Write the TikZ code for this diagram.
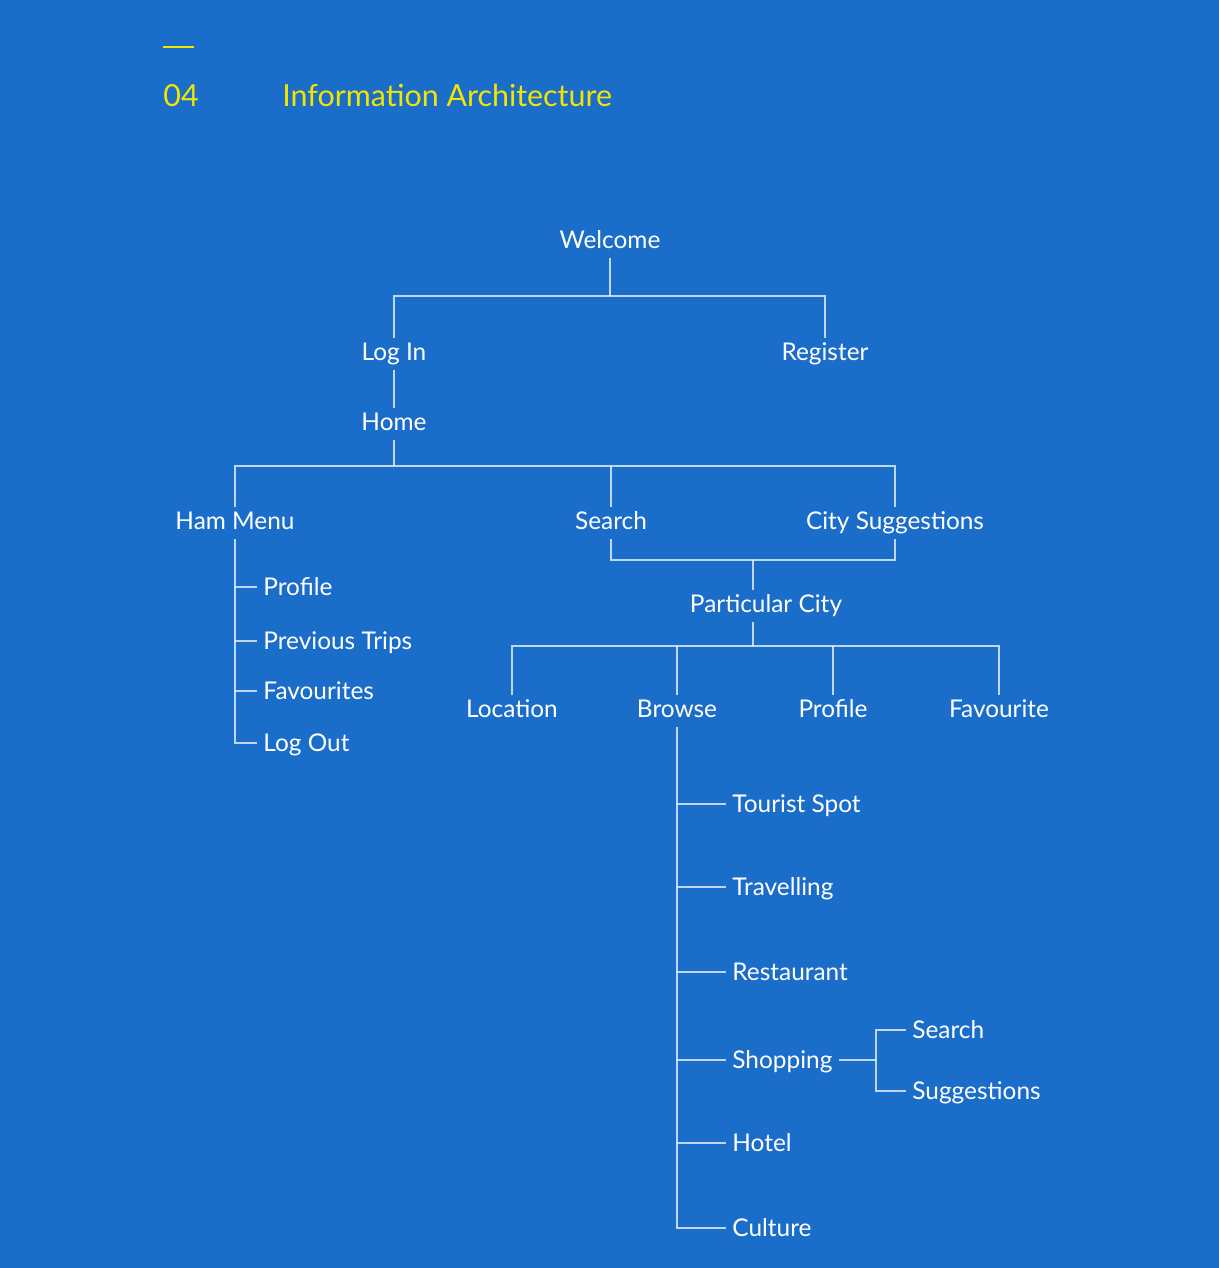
\documentclass[tikz,border=0pt]{standalone}
\usepackage{fontspec}
\setmainfont{Lato}
\usetikzlibrary{positioning,calc}
\definecolor{bgblue}{HTML}{1B6DCA}
\definecolor{titleyellow}{HTML}{F2E500}
\tikzset{item/.style={
            text=white,
            font=\fontsize{12.2}{14}\selectfont,
            inner xsep=3pt,
            inner ysep=2pt,
            text height=9pt,
            text depth=2.6pt
        },
        leaf/.style={
            item,
            anchor=west,
            text height=9.2pt,
            text depth=0.4pt
        },
        link/.style={
            draw=white,
            draw opacity=0.72,
            line width=0.6pt
        },
        heading/.style={
            text=titleyellow,
            font=\fontsize{15.2}{18}\selectfont,
            inner sep=0pt,
            anchor=base west
        }
    }
\begin{document}
\begin{tikzpicture}[x=0.5pt,y=-0.5pt]
        \fill[bgblue] (0,0) rectangle (1219,1268);

        % heading
        \draw[titleyellow, line width=0.6pt] (163,47) -- (194,47);
        \node[heading] (num) at (163,106) {04};
        \node[heading] (title) at (282,106) {Information Architecture};

        % upper levels
        \node[item] (welcome) at (610,242) {Welcome};
        \node[item] (login) at (394,354) {Log In};
        \node[item] (register) at (825,354) {Register};
        \node[item] (home) at (394,424) {Home};
        \node[item] (hammenu) at (235,523) {Ham Menu};
        \node[item] (search) at (611,523) {Search};
        \node[item] (citysugg) at (895,523) {City Suggestions};
        \node[item] (city) at (766,606) {Particular City};
        \node[item] (location) at (512,711) {Location};
        \node[item] (browse) at (677,711) {Browse};
        \node[item] (cityprofile) at (833,711) {Profile};
        \node[item] (favourite) at (999,711) {Favourite};

        % ham menu
        \node[leaf] (profile) at (257,587) {Profile};
        \node[leaf] (trips) at (257,641) {Previous Trips};
        \node[leaf] (favourites) at (257,691) {Favourites};
        \node[leaf] (logout) at (257,743) {Log Out};

        % browse
        \node[leaf] (tourist) at (726,804) {Tourist Spot};
        \node[leaf] (travelling) at (726,887) {Travelling};
        \node[leaf] (restaurant) at (726,972) {Restaurant};
        \node[leaf] (shopping) at (726,1060) {Shopping};
        \node[leaf] (hotel) at (726,1143) {Hotel};
        \node[leaf] (culture) at (726,1228) {Culture};
        \node[leaf] (shopsearch) at (906,1030) {Search};
        \node[leaf] (shopsugg) at (906,1091) {Suggestions};

        \coordinate (j1) at (610,296);
        \coordinate (j2) at (394,466);
        \coordinate (j3) at (753,560);
        \coordinate (j4) at (753,646);
        \coordinate (j5) at (876,1060);

        \draw[link] (welcome) -- (j1);
        \draw[link] (login.north) |- (j1) -| (register.north);
        \draw[link] (login) -- (home);
        \draw[link] (home) -- (j2);
        \draw[link] (hammenu.north) |- (j2) -| (citysugg.north);
        \draw[link] (search.north) -- (search.north |- j2);
        \draw[link] (search.south) |- (j3) -| (citysugg.south);
        \draw[link] (j3) -- (j3 |- city.north);
        \draw[link] (j3 |- city.south) -- (j4);
        \draw[link] (location.north) |- (j4) -| (favourite.north);
        \draw[link] (browse.north) -- (browse.north |- j4);
        \draw[link] (cityprofile.north) -- (cityprofile.north |- j4);

        \draw[link] (hammenu.south) |- (logout.west);
        \foreach \n in {profile,trips,favourites}
            \draw[link] (hammenu.south |- \n.west) -- (\n.west);
        \draw[link] (browse.south) |- (culture.west);
        \foreach \n in {tourist,travelling,restaurant,shopping,hotel}
            \draw[link] (browse.south |- \n.west) -- (\n.west);
        \draw[link] (shopping.east) -- (j5);
        \draw[link] (shopsearch.west) -| (j5) |- (shopsugg.west);

    \end{tikzpicture}
\end{document}
